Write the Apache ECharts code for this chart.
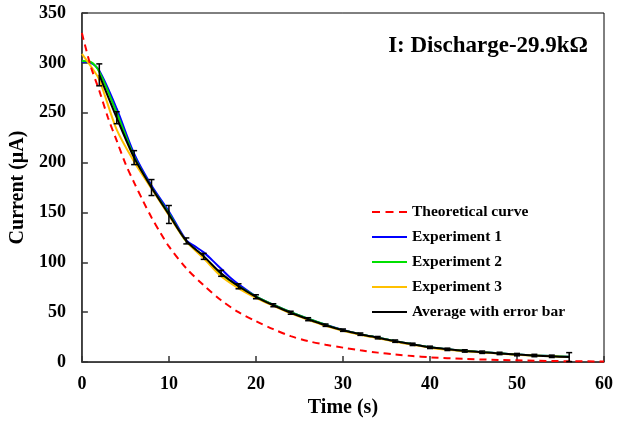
<!DOCTYPE html>
<html>
<head>
<meta charset="utf-8">
<script src="https://cdn.jsdelivr.net/npm/echarts@6/dist/echarts.min.js"></script>
<style>html,body{margin:0;padding:0;background:#fff}#c{width:623px;height:423px}</style>
</head>
<body>
<div id="c"></div>
<script>
var FONT = '"Times New Roman", "Liberation Serif", serif';
var seriesNames = ['Theoretical curve', 'Experiment 1', 'Experiment 2', 'Experiment 3', 'Average with error bar'];
var xTicks = [0, 10, 20, 30, 40, 50, 60];
var yTicks = [0, 50, 100, 150, 200, 250, 300, 350];

// Theoretical curve [time s, current µA]
var theoretical = [[0,330],[1,297],[2,272],[3,245],[4,222],[5,199],[6,180],[7,162],[8,145],[9,130],[10,116],[12,94],[14,77],[16,62],[18,50],[20,41],[22,33],[24,26],[26,21],[28,17.5],[30,14.5],[32,11.8],[34,9.5],[36,7.6],[38,6.1],[40,4.8],[44,3.2],[48,2.2],[52,1.4],[56,0.9],[60,0.6]];
// Experiment 1 (blue)
var exp1 = [[0,301],[1,300],[2,292],[4,254],[6,209],[8,177],[10,151],[12,122],[13,116],[14,110],[15,102],[16,93.5],[17,85],[18,78],[20,66],[22,57.5],[24,50],[26,43.5],[28,37.5],[30,32.3],[32,28],[34,24.5],[36,21],[38,18],[40,15],[42,13],[44,11.3],[46,10],[48,8.8],[50,7.6],[52,6.7],[54,6],[56,5.3]];
// Experiment 2 (green)
var exp2 = [[0,302],[1,301],[2,291],[4,250],[6,206],[8,175],[10,149],[12,121],[14,106],[16,88],[18,76],[20,66],[22,57.5],[24,50],[26,43.5],[28,37.5],[30,32],[32,28],[34,24.5],[36,21],[38,18],[40,15],[42,13],[44,11.3],[46,10],[48,8.8],[50,7.6],[52,6.7],[54,6],[56,5.3]];
// Experiment 3 (orange)
var exp3 = [[0,309],[1,297],[2,283],[4,233],[6,201],[8,174],[10,147],[12,121],[14,104],[16,86],[18,74],[20,64.5],[22,56.5],[24,49],[26,42.5],[28,36.5],[30,31.5],[32,27.5],[34,24],[36,20.5],[38,17.5],[40,14.5],[42,12.5],[44,11],[46,9.7],[48,8.5],[50,7.4],[52,6.5],[54,5.8],[56,5]];
// Average with error bar
var avgTime = [2,4,6,8,10,12,14,16,18,20,22,24,26,28,30,32,34,36,38,40,42,44,46,48,50,52,54,56];
var avgVal  = [288,245,205,175,148,121.5,106,89,76,65.5,57,49.5,43,37,32,28,24.5,21,17.8,14.8,12.8,11.2,9.9,8.7,7.5,6.6,5.8,5];
var avgErr  = [11,6,7,8,9,3,3,3,2.5,2,1.5,1.5,1.5,1.2,1.2,1.2,1.2,1.2,1.2,1.2,1.2,1.2,1.2,1.2,1.2,1.2,1.2,4.5];

var avgData = avgTime.map(function(t,i){return [t, avgVal[i]];});
var errData = avgTime.map(function(t,i){return [t, avgVal[i]-avgErr[i], avgVal[i]+avgErr[i]];});

var SOLID = 'path://M0,0h35v2h-35z';
var DASHED = 'path://M0,0h8v2h-8z M13.5,0h8v2h-8z M27,0h8v2h-8z';

var chart = echarts.init(document.getElementById('c'), null, {renderer:'canvas'});
var lineBase = function(name, data, color, dash){
  return {name:name, type:'line', data:data, symbol:'none', showSymbol:false, smooth:0.3,
    lineStyle:{color:color, width:2, type: dash ? [7,5] : 'solid'}, itemStyle:{color:color},
    emphasis:{disabled:true}, animation:false, z:3};
};
var option = {
  animation:false,
  title:{text:'I: Discharge-29.9k\u03A9', right:30, top:30,
    textStyle:{fontFamily:FONT, fontWeight:'bold', fontSize:23, color:'#000'}},
  grid:{left:80, right:19, top:13, bottom:57, show:true, borderColor:'#000', borderWidth:1, backgroundColor:'transparent'},
  legend:{orient:'vertical', left:367, top:199, itemWidth:35, itemHeight:2, itemGap:9,
    data:[
      {name:seriesNames[0], icon:DASHED},
      {name:seriesNames[1], icon:SOLID},
      {name:seriesNames[2], icon:SOLID},
      {name:seriesNames[3], icon:SOLID},
      {name:seriesNames[4], icon:SOLID}
    ],
    textStyle:{fontFamily:FONT, fontWeight:'bold', fontSize:15.5, color:'#000', lineHeight:16}},
  xAxis:{type:'value', min:xTicks[0], max:xTicks[xTicks.length-1], interval:10,
    name:'Time (s)', nameLocation:'middle', nameGap:25,
    nameTextStyle:{fontFamily:FONT, fontWeight:'bold', fontSize:20, color:'#000'},
    axisLine:{show:true, onZero:false, lineStyle:{color:'#333', width:1.5}},
    axisTick:{show:true, inside:true, length:6, lineStyle:{color:'#333', width:1.5}},
    axisLabel:{margin:13, fontFamily:FONT, fontWeight:'bold', fontSize:18, color:'#000'},
    splitLine:{show:false}},
  yAxis:{type:'value', min:yTicks[0], max:yTicks[yTicks.length-1], interval:50,
    name:'Current (\u03BCA)', nameLocation:'middle', nameGap:47,
    nameTextStyle:{fontFamily:FONT, fontWeight:'bold', fontSize:20, color:'#000'},
    axisLine:{show:true, onZero:false, lineStyle:{color:'#333', width:1.5}},
    axisTick:{show:true, inside:true, length:6, lineStyle:{color:'#333', width:1.5}},
    axisLabel:{margin:16, fontFamily:FONT, fontWeight:'bold', fontSize:18, color:'#000'},
    splitLine:{show:false}},
  series:[
    lineBase(seriesNames[1], exp1, '#0000ff', false),
    lineBase(seriesNames[2], exp2, '#00e000', false),
    lineBase(seriesNames[3], exp3, '#ffc000', false),
    lineBase(seriesNames[4], avgData, '#000000', false),
    lineBase(seriesNames[0], theoretical, '#ff0000', true),
    {type:'custom', name:'errorbars', data:errData, z:4, animation:false, silent:true,
      renderItem:function(params, api){
        var t = api.value(0);
        var lo = api.coord([t, api.value(1)]);
        var hi = api.coord([t, api.value(2)]);
        var hw = 3;
        var st = {stroke:'#000', lineWidth:1.5};
        return {type:'group', children:[
          {type:'line', shape:{x1:lo[0], y1:lo[1], x2:hi[0], y2:hi[1]}, style:st},
          {type:'line', shape:{x1:lo[0]-hw, y1:lo[1], x2:lo[0]+hw, y2:lo[1]}, style:st},
          {type:'line', shape:{x1:hi[0]-hw, y1:hi[1], x2:hi[0]+hw, y2:hi[1]}, style:st}
        ]};
      }}
  ]
};
chart.setOption(option);
</script>
</body>
</html>
